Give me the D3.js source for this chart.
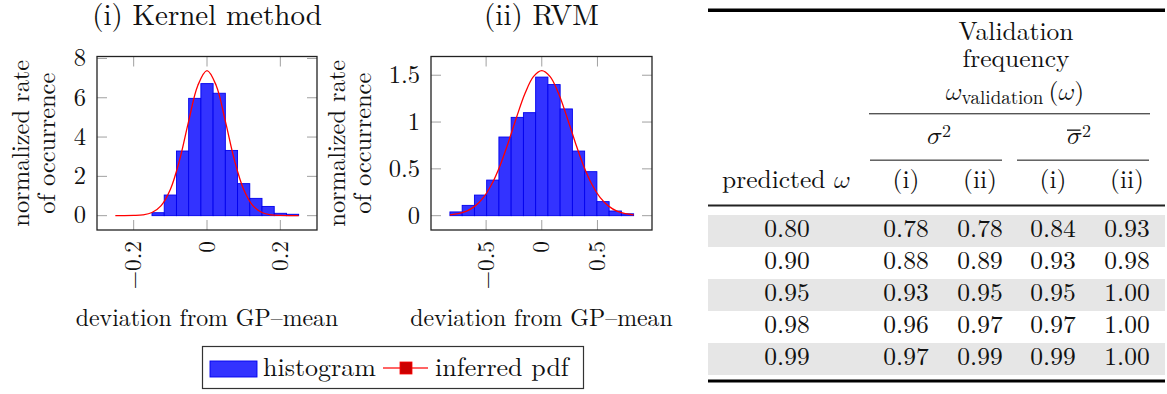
<!DOCTYPE html>
<html>
<head>
<meta charset="utf-8">
<script src="https://cdn.jsdelivr.net/npm/d3@7/dist/d3.min.js"></script>
<style>
  html, body { margin: 0; padding: 0; background: #fff; }
  svg { display: block; }
  .math { font-family: "Latin Modern Math", "Latin Modern Roman", "DejaVu Serif", serif; }
</style>
</head>
<body>
<svg id="fig" width="1167" height="394" font-family="'Latin Modern Roman', 'Liberation Serif', serif"></svg>
<script>
// ---------- histogram data ----------
// Kernel method: 15 bins over [-0.25, 0.25]
const kernelBinStart = -0.25;
const kernelBinWidth = 0.5 / 15;
const kernelHist = [0, 0, 0, 0.15, 1.05, 3.29, 5.97, 6.72, 6.23, 3.32, 1.63, 0.88, 0.47, 0.12, 0.07];
// inferred pdf, sampled
const kernelPdfX = [-0.25, -0.225, -0.2, -0.175, -0.15, -0.125, -0.1, -0.075, -0.05, -0.025, 0,
                    0.025, 0.05, 0.075, 0.1, 0.125, 0.15, 0.175, 0.2, 0.225, 0.25];
const kernelPdfY = [0, 0, 0.01, 0.04, 0.16, 0.51, 1.33, 2.81, 4.81, 6.63, 7.38,
                    6.63, 4.81, 2.81, 1.33, 0.51, 0.16, 0.04, 0.01, 0, 0];
const kernelXTicks = [-0.2, 0, 0.2];
const kernelYTicks = [0, 2, 4, 6, 8];

// RVM: 15 bins over [-0.825, 0.825]
const rvmBinStart = -0.825;
const rvmBinWidth = 0.11;
const rvmHist = [0.04, 0.11, 0.22, 0.38, 0.84, 1.05, 1.10, 1.48, 1.40, 1.14, 0.69, 0.47, 0.15, 0.05, 0.02];
const rvmPdfX = [-0.825, -0.75, -0.675, -0.6, -0.525, -0.45, -0.375, -0.3, -0.225, -0.15, -0.075, 0,
                 0.075, 0.15, 0.225, 0.3, 0.375, 0.45, 0.525, 0.6, 0.675, 0.75, 0.825];
const rvmPdfY = [0.009, 0.022, 0.049, 0.102, 0.192, 0.335, 0.534, 0.785, 1.057, 1.307, 1.485, 1.55,
                 1.485, 1.307, 1.057, 0.785, 0.534, 0.335, 0.192, 0.102, 0.049, 0.022, 0.009];
const rvmXTicks = [-0.5, 0, 0.5];
const rvmYTicks = [0, 0.5, 1, 1.5];

// ---------- table data ----------
const predictedOmega = [0.80, 0.90, 0.95, 0.98, 0.99];
const sigmaKernel    = [0.78, 0.88, 0.93, 0.96, 0.97];
const sigmaRvm       = [0.78, 0.89, 0.95, 0.97, 0.99];
const sigmaBarKernel = [0.84, 0.93, 0.95, 0.97, 0.99];
const sigmaBarRvm    = [0.93, 0.98, 1.00, 1.00, 1.00];

const OMEGA = "\u{1D714}";   // math italic omega
const SIGMA = "\u{1D70E}";   // math italic sigma

const svg = d3.select("#fig");
svg.append("rect").attr("width", 1167).attr("height", 394).attr("fill", "#fff");

const INK = "#111";

function panel(opts) {
  const { left, right, top, bottom, xDomain, yDomain, xTicks, yTicks,
          binStart, binWidth, hist, pdfX, pdfY, title, labelX1, labelX2 } = opts;
  const x = d3.scaleLinear().domain(xDomain).range([left, right]);
  const y = d3.scaleLinear().domain(yDomain).range([bottom, top]);
  const g = svg.append("g").attr("fill", INK);

  // title
  g.append("text").attr("x", (left + right) / 2).attr("y", 25)
    .attr("text-anchor", "middle").attr("font-size", 29).text(title);

  // inner tick marks on all four sides
  const tl = 10;
  const tickCol = "#a0a0a0";
  xTicks.forEach(v => {
    g.append("line").attr("x1", x(v)).attr("x2", x(v)).attr("y1", bottom).attr("y2", bottom - tl)
      .attr("stroke", tickCol).attr("stroke-width", 1);
    g.append("line").attr("x1", x(v)).attr("x2", x(v)).attr("y1", top).attr("y2", top + tl)
      .attr("stroke", tickCol).attr("stroke-width", 1);
  });
  yTicks.forEach(v => {
    g.append("line").attr("x1", left).attr("x2", left + tl).attr("y1", y(v)).attr("y2", y(v))
      .attr("stroke", tickCol).attr("stroke-width", 1);
    g.append("line").attr("x1", right).attr("x2", right - tl).attr("y1", y(v)).attr("y2", y(v))
      .attr("stroke", tickCol).attr("stroke-width", 1);
  });

  // histogram bars (empty bins are skipped)
  const bins = hist.map((v, i) => ({ v, x0: binStart + i * binWidth, x1: binStart + (i + 1) * binWidth }))
    .filter(b => b.v > 0);
  g.append("g").selectAll("rect").data(bins).join("rect")
    .attr("x", b => x(b.x0))
    .attr("width", b => x(b.x1) - x(b.x0))
    .attr("y", b => y(b.v))
    .attr("height", b => y(0) - y(b.v))
    .attr("fill", "#3333ff")
    .attr("stroke", "#0000ee")
    .attr("stroke-width", 0.9);

  // inferred pdf
  const line = d3.line().x(d => x(d[0])).y(d => y(d[1])).curve(d3.curveCatmullRom.alpha(0.5));
  g.append("path").datum(d3.zip(pdfX, pdfY)).attr("d", line)
    .attr("fill", "none").attr("stroke", "#ff0000").attr("stroke-width", 1.3);

  // frame
  g.append("rect").attr("x", left).attr("y", top).attr("width", right - left).attr("height", bottom - top)
    .attr("fill", "none").attr("stroke", "#222").attr("stroke-width", 1.3);

  // y tick labels
  g.append("g").selectAll("text").data(yTicks).join("text")
    .attr("x", left - 11).attr("y", d => y(d)).attr("dy", "0.32em")
    .attr("text-anchor", "end").attr("font-size", 24.5).text(d => d3.format("")(d));

  // x tick labels, rotated
  g.append("g").selectAll("text").data(xTicks).join("text")
    .attr("transform", d => `translate(${x(d)},241) rotate(-90)`)
    .attr("dy", "0.32em")
    .attr("text-anchor", "end").attr("font-size", 23.5).text(d => d3.format("")(d));

  // axis labels
  const cy = (top + bottom) / 2;
  g.append("text").attr("transform", `translate(${labelX1},${cy}) rotate(-90)`)
    .attr("text-anchor", "middle").attr("font-size", 24.4).text("normalized rate");
  g.append("text").attr("transform", `translate(${labelX2},${cy}) rotate(-90)`)
    .attr("text-anchor", "middle").attr("font-size", 24.4).text("of occurrence");
  g.append("text").attr("x", (left + right) / 2).attr("y", 326)
    .attr("text-anchor", "middle").attr("font-size", 23.8).text("deviation from GP–mean");
}

panel({
  left: 97, right: 317, top: 56.5, bottom: 230,
  xDomain: [-0.3, 0.3], yDomain: [-0.73, 8.1],
  xTicks: kernelXTicks, yTicks: kernelYTicks,
  binStart: kernelBinStart, binWidth: kernelBinWidth, hist: kernelHist,
  pdfX: kernelPdfX, pdfY: kernelPdfY, title: "(i) Kernel method",
  labelX1: 29, labelX2: 55
});
panel({
  left: 431, right: 652, top: 56.5, bottom: 230,
  xDomain: [-0.995, 0.99], yDomain: [-0.153, 1.70],
  xTicks: rvmXTicks, yTicks: rvmYTicks,
  binStart: rvmBinStart, binWidth: rvmBinWidth, hist: rvmHist,
  pdfX: rvmPdfX, pdfY: rvmPdfY, title: "(ii) RVM",
  labelX1: 345, labelX2: 371
});

// ---------- legend ----------
const LFS = 26;
const lg = svg.append("g").attr("fill", INK);
lg.append("rect").attr("x", 202.5).attr("y", 346.5).attr("width", 381).attr("height", 42)
  .attr("fill", "#fff").attr("stroke", "#333").attr("stroke-width", 1.2);
lg.append("rect").attr("x", 210).attr("y", 361).attr("width", 47).attr("height", 16)
  .attr("fill", "#3333ff").attr("stroke", "#0000ee").attr("stroke-width", 0.9);
lg.append("text").attr("x", 263).attr("y", 376).attr("font-size", LFS).text("histogram");
lg.append("line").attr("x1", 383).attr("x2", 428).attr("y1", 368).attr("y2", 368)
  .attr("stroke", "#ff3030").attr("stroke-width", 1.3);
lg.append("rect").attr("x", 400).attr("y", 362).attr("width", 12).attr("height", 12)
  .attr("fill", "#cc0000").attr("stroke", "#ff0000").attr("stroke-width", 0.8);
lg.append("text").attr("x", 435).attr("y", 376).attr("font-size", LFS).text("inferred pdf");

// ---------- table ----------
const TFS = 25.5;
const tb = svg.append("g").attr("fill", INK);
const tL = 708, tR = 1165;
const colX = [787, 906, 980, 1053, 1127];
const rowY = d3.scaleBand().domain(d3.range(predictedOmega.length)).range([215, 375]);
const f2 = d3.format(".2f");

tb.append("rect").attr("x", tL).attr("y", 8.5).attr("width", tR - tL).attr("height", 3.5).attr("fill", "#000");

tb.append("text").attr("x", 1016).attr("y", 40).attr("text-anchor", "middle").attr("font-size", TFS).text("Validation");
tb.append("text").attr("x", 1016).attr("y", 67).attr("text-anchor", "middle").attr("font-size", TFS).text("frequency");
const wv = tb.append("text").attr("x", 1015).attr("y", 100).attr("text-anchor", "middle").attr("font-size", TFS);
wv.append("tspan").attr("class", "math").text(OMEGA);
wv.append("tspan").attr("font-size", 19).attr("dy", 4).text("validation");
wv.append("tspan").attr("dy", -4).text("\u2009(");
wv.append("tspan").attr("class", "math").text(OMEGA);
wv.append("tspan").text(")");

tb.append("rect").attr("x", 869).attr("y", 113).attr("width", 281).attr("height", 1.4).attr("fill", "#555");

// σ² and σ̄² headers
function sigmaHead(x0, bar) {
  tb.append("text").attr("class", "math").attr("x", x0).attr("y", 144).attr("font-size", TFS).text(SIGMA);
  tb.append("text").attr("x", x0 + 15).attr("y", 136.5).attr("font-size", 18).text("2");
  if (bar) tb.append("rect").attr("x", x0).attr("y", 129.5).attr("width", 13.5).attr("height", 1.3).attr("fill", "#111");
}
sigmaHead(927, false);
sigmaHead(1067, true);

tb.append("rect").attr("x", 870).attr("y", 159.5).attr("width", 132).attr("height", 1.4).attr("fill", "#555");
tb.append("rect").attr("x", 1017).attr("y", 159.5).attr("width", 132).attr("height", 1.4).attr("fill", "#555");

const ph = tb.append("text").attr("x", 722).attr("y", 188).attr("font-size", TFS);
ph.append("tspan").text("predicted ");
ph.append("tspan").attr("class", "math").text(OMEGA);
tb.append("g").selectAll("text").data(["(i)", "(ii)", "(i)", "(ii)"]).join("text")
  .attr("x", (d, i) => colX[i + 1]).attr("y", 188).attr("text-anchor", "middle").attr("font-size", TFS).text(d => d);

tb.append("rect").attr("x", tL).attr("y", 204.5).attr("width", tR - tL).attr("height", 2).attr("fill", "#222");

// shaded alternate rows
tb.append("g").selectAll("rect").data(d3.range(predictedOmega.length).filter(i => i % 2 === 0)).join("rect")
  .attr("x", tL).attr("y", i => rowY(i)).attr("width", tR - tL).attr("height", rowY.bandwidth())
  .attr("fill", "#e6e6e6");

const rows = predictedOmega.map((p, i) => [p, sigmaKernel[i], sigmaRvm[i], sigmaBarKernel[i], sigmaBarRvm[i]]);
const rowG = tb.append("g").selectAll("g").data(rows).join("g");
rowG.selectAll("text").data((r, i) => r.map((v, j) => ({ v, i, j }))).join("text")
  .attr("x", d => colX[d.j]).attr("y", d => rowY(d.i) + 21.5)
  .attr("text-anchor", "middle").attr("font-size", TFS).text(d => f2(d.v));

tb.append("rect").attr("x", tL).attr("y", 379.5).attr("width", tR - tL).attr("height", 3).attr("fill", "#000");
</script>
</body>
</html>
